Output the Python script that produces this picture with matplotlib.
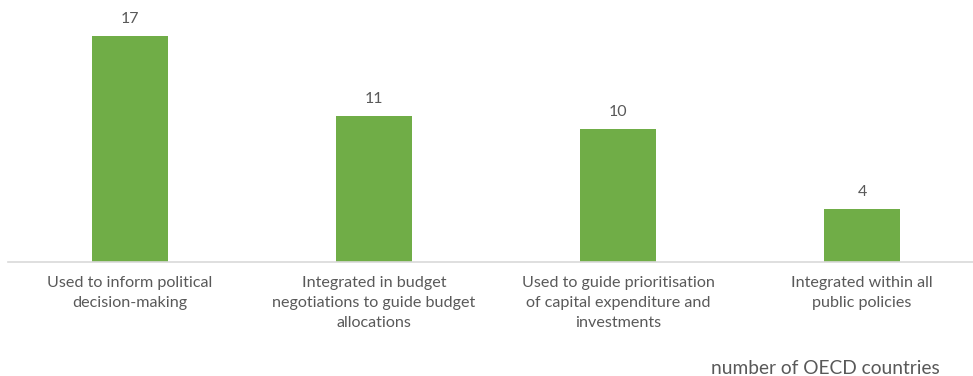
import matplotlib.pyplot as plt

plt.rcParams['font.family'] = ['Lato', 'DejaVu Sans']

# Categories and counts
categories = [
    "Used to inform political\ndecision-making",
    "Integrated in budget\nnegotiations to guide budget\nallocations",
    "Used to guide prioritisation\nof capital expenditure and\ninvestments",
    "Integrated within all\npublic policies",
]
counts = [17, 11, 10, 4]

bar_color = "#70AD47"
text_color = "#595959"

fig = plt.figure(figsize=(9.73, 3.76), dpi=100)
ax = fig.add_axes([8 / 973, 1 - 262 / 376, 976 / 973, 262 / 376])

x = range(len(categories))
bars = ax.bar(x, counts, width=0.31, color=bar_color, zorder=2)

for xi, v in zip(x, counts):
    ax.annotate(str(v), (xi, v), xytext=(0, 7), textcoords="offset points",
                ha="center", va="bottom", fontsize=11.5, color=text_color)

ax.set_xlim(-0.5, 3.5)
ax.set_ylim(0, 19.7)

for side in ["top", "right", "left"]:
    ax.spines[side].set_visible(False)
ax.spines["bottom"].set_color("#D9D9D9")
ax.spines["bottom"].set_linewidth(1.2)
ax.set_yticks([])
ax.set_xticks(list(x))
ax.set_xticklabels(categories, fontsize=11.6, color=text_color, linespacing=1.55)
ax.tick_params(axis="x", length=0, pad=10)

fig.text(940 / 973, 1 - 368 / 376, "number of OECD countries", ha="right",
         va="center", fontsize=13.8, color=text_color)

fig.savefig("out.png", dpi=100)
